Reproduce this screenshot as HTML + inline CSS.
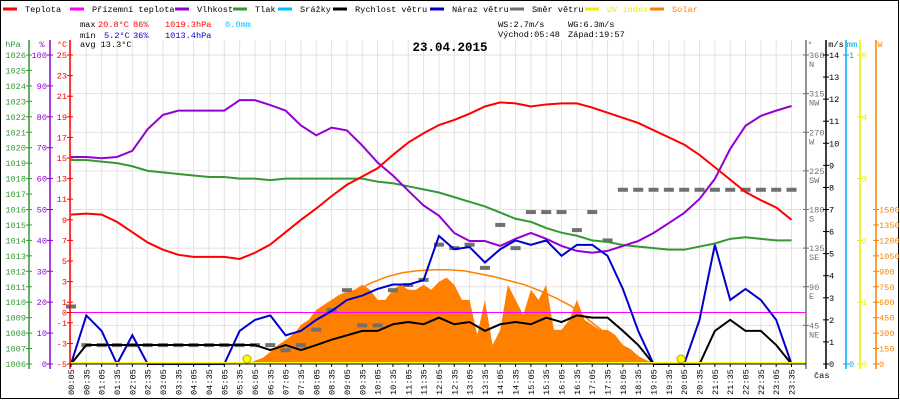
<!DOCTYPE html>
<html><head><meta charset="utf-8"><style>
body{margin:0;background:#fff}
svg{display:block;font-family:"Liberation Mono",monospace;font-size:8.6px}
</style></head><body>
<svg id="c" width="900" height="400" viewBox="0 0 900 400">
<rect x="0.5" y="0.5" width="898" height="398" fill="#fff" stroke="#000"/>
<g id="grid"></g>
<g id="plot"></g>
<g id="axes"></g>
<g id="legend"></g>
<g>
<text x="80" y="27" fill="#000">max</text><text x="98" y="27" fill="#f00">20.8°C</text><text x="133" y="27" fill="#f00">86%</text><text x="165" y="27" fill="#f00">1019.3hPa</text><text x="225" y="27" fill="#00bfff">0.0mm</text>
<text x="80" y="38" fill="#000">min</text><text x="104" y="38" fill="#00c">5.2°C</text><text x="133" y="38" fill="#00c">36%</text><text x="165" y="38" fill="#00c">1013.4hPa</text>
<text x="80" y="47" fill="#000">avg 13.3°C</text>
<text x="498" y="27">WS:2.7m/s</text><text x="568" y="27">WG:6.3m/s</text>
<text x="498" y="37">Východ:05:48</text><text x="568" y="37">Západ:19:57</text>
<text x="450" y="51" text-anchor="middle" font-weight="bold" font-size="12.5">23.04.2015</text>
</g>
</svg>
<script>
const temp=[9.5,9.6,9.5,8.8,7.8,6.8,6.1,5.6,5.4,5.4,5.4,5.2,5.8,6.6,7.8,9.0,10.1,11.3,12.4,13.2,14.0,15.3,16.5,17.4,18.2,18.7,19.3,20.0,20.4,20.3,20.0,20.2,20.3,20.3,19.9,19.4,18.9,18.4,17.7,17.0,16.3,15.3,14.1,12.9,11.7,10.9,10.2,9.0];
const humid=[67,67,66.6,67,69,76,80.6,82,82,82,82,85.4,85.4,83.8,82,77.2,74,76.5,75.6,70.7,65.2,61,56.1,51.3,48,42.4,39.8,39.8,38.2,40.5,42.4,40.5,38.2,36.6,36,36.6,38.2,39.8,42.4,45.6,48.9,53.4,59.9,69.6,77.1,80.3,82,83.5];
const press=[1019.2,1019.2,1019.1,1019,1018.8,1018.5,1018.4,1018.3,1018.2,1018.1,1018.1,1018,1018,1017.9,1018,1018,1018,1018,1018,1018,1017.8,1017.7,1017.5,1017.3,1017.1,1016.8,1016.5,1016.2,1015.8,1015.4,1015.2,1014.8,1014.5,1014.3,1014,1013.9,1013.7,1013.6,1013.5,1013.4,1013.4,1013.6,1013.8,1014.1,1014.2,1014.1,1014,1014];
const wind=[0,0.86,0.86,0.86,0.86,0.86,0.86,0.86,0.86,0.86,0.86,0.86,0.86,0.63,0.86,0.63,0.86,1.1,1.3,1.5,1.5,1.8,1.9,1.8,2.1,1.8,1.9,1.5,1.8,1.9,1.8,2.1,1.9,2.2,2.1,2.1,1.5,0.86,0,0,0,0,1.5,2.0,1.5,1.5,0.86,0];
const gust=[0,2.2,1.5,0,1.3,0,0,0,0,0,0,1.5,2.0,2.2,1.3,1.5,2.0,2.4,2.9,3.1,3.4,3.6,3.6,3.8,5.8,5.2,5.3,4.6,5.2,5.6,5.4,5.6,4.9,5.4,5.4,4.9,3.4,1.5,0,0,0,2.0,5.4,2.9,3.4,2.9,2.0,0];
const dirDeg=[67,22,22,22,22,22,22,22,22,22,22,22,22,22,16,22,40,63,86,45,45,86,92,98,139,135,139,112,162,135,177,177,177,156,177,144,203,203,203,203,203,203,203,203,203,203,203,203];
const solar=[0,19,58,117,185,233,282,380,428,526,575,623,672,701,721,769,721,623,623,721,769,721,721,769,721,799,838,769,623,623,282,623,185,331,769,623,477,721,623,769,331,331,428,623,428,380,331,331,282,185,146,78,39,10];
const solarStart=23;
const clear=[0,58,175,292,409,526,623,711,789,847,886,905,915,915,905,877,847,808,769,711,643,565,448,331,214,97,0];
const clearStart=11.6;
const xLabels=[];for(let h=0;h<24;h++){const hh=(h<10?'0':'')+h;xLabels.push(hh+':05');xLabels.push(hh+':35');}
const hpaTicks=[1026,1025,1024,1023,1022,1021,1020,1019,1018,1017,1016,1015,1014,1013,1012,1011,1010,1009,1008,1007,1006];
const pctTicks=[100,90,80,70,60,50,40,30,20,10,0];
const tTicks=[25,23,21,19,17,15,13,11,9,7,5,3,1,0,-1,-3,-5];
const dirTicks=[[360,'N'],[315,'NW'],[270,'W'],[225,'SW'],[180,'S'],[135,'SE'],[90,'E'],[45,'NE']];
const msTicks=[0,1,2,3,4,5,6,7,8,9,10,11,12,13,14];
const uvTicks=[0,1,2,3,4,5];
const wTicks=[0,150,300,450,600,750,900,1050,1200,1350,1500];

const NS='http://www.w3.org/2000/svg';
const T=55,B=364,H=B-T;
const X=i=>71+i*15.33;
const yT=v=>T+(25-v)/30*H, yH=v=>T+(100-v)/100*H, yP=v=>T+(1026-v)/20*H;
const yV=v=>B-v/14*H, yD=v=>B-v/360*H, yS=v=>B-v/3000*H, yU=v=>B-v/5*H;
function el(tag,a,p){const e=document.createElementNS(NS,tag);for(const k in a)e.setAttribute(k,a[k]);p.appendChild(e);return e;}
const grid=document.getElementById('grid'),plot=document.getElementById('plot'),axes=document.getElementById('axes'),leg=document.getElementById('legend');
for(let i=0;i<48;i++){const g=el('line',{x1:X(i),x2:X(i),y1:40,y2:B,stroke:'#e6e0e0'},grid);}
for(const d of dirTicks){const g=el('line',{x1:70,x2:806,y1:yD(d[0]),y2:yD(d[0]),stroke:'#e6e0e0'},grid);}
let pts=[[X(solarStart/2),B]];solar.forEach((s,j)=>pts.push([X((solarStart+j)/2),yS(s)]));pts.push([X((solarStart+solar.length-1)/2),B]);
let a=el('polygon',{points:pts.map(p=>p.join(',')).join(' '),fill:'#ff8000'},plot);
function line(arr,fy,col,name,w,xf){const p=el('polyline',{points:arr.map((v,i)=>(xf?xf(i):X(i))+','+fy(v)).join(' '),fill:'none',stroke:col,'stroke-width':w||2},plot);}
line(clear,yS,'#ff8000','solar-clear-sky-line',1.5,i=>X(clearStart+i));
el('line',{x1:70,x2:806,y1:yT(0),y2:yT(0),stroke:'#f0f'},plot);
dirDeg.forEach((d,i)=>{const r=el('rect',{x:X(i)-5,y:yD(d)-2,width:10,height:4,fill:'#707070'},plot);});
line(press,yP,'#339933','pressure-line');
line(humid,yH,'#9400d3','humidity-line');
line(temp,yT,'#f00','temperature-line');
line(gust,yV,'#0000cc','wind-gust-line');
line(wind,yV,'#000','wind-speed-line');
el('line',{x1:70,x2:806,y1:B-1,y2:B-1,stroke:'#ff0','stroke-width':2},plot);
[[247],[681]].forEach(p=>{const c=el('circle',{cx:p[0],cy:359,r:4,fill:'#ff0',stroke:'#aa0'},plot);});
function vaxis(x,col,ticks,fy,lx,anchor,unit,ux,name){const g=el('g',{},axes);
 el('line',{x1:x,x2:x,y1:40,y2:B+5,stroke:col,'stroke-width':1.5},g);
 ticks.forEach(t=>{const v=Array.isArray(t)?t[0]:t;const y=fy(v);el('line',{x1:x-3,x2:x+3,y1:y,y2:y,stroke:col},g);
 const tx=el('text',{x:lx,y:y+3,fill:col,'text-anchor':anchor},g);tx.textContent=v;
 if(Array.isArray(t)){const t2=el('text',{x:lx,y:y+12,fill:col,'text-anchor':anchor},g);t2.textContent=t[1];}});
 const u=el('text',{x:ux,y:47,fill:col,'text-anchor':'middle'},g);u.textContent=unit;}
vaxis(29,'#339933',hpaTicks,yP,26,'end','hPa',13,'pressure-axis');
vaxis(50,'#9400d3',pctTicks,yH,47,'end','%',42,'humidity-axis');
vaxis(70,'#f00',tTicks,yT,67,'end','°C',62,'temperature-axis');
vaxis(806,'#707070',dirTicks,yD,809,'start','°',810,'direction-axis');
vaxis(826,'#000',msTicks,yV,829,'start','m/s',836,'wind-axis');
vaxis(846,'#00aaee',[0,1],v=>B-v*H,849,'start','mm',852,'rain-axis');
vaxis(860,'#ee0',uvTicks,yU,862,'start','',866,'uv-axis');
vaxis(876,'#ff8000',wTicks,yS,879,'start','W',880,'solar-axis');
el('line',{x1:70,x2:806,y1:B,y2:B,stroke:'#000'},axes);
xLabels.forEach((l,i)=>{const t=el('text',{transform:`translate(${X(i)+3},395) rotate(-90)`,fill:'#000'},axes);t.textContent=l;
 el('line',{x1:X(i),x2:X(i),y1:B,y2:B+3,stroke:'#000'},axes);});
const cas=el('text',{x:814,y:378},axes);cas.textContent='čas';
const L=[['Teplota','#f00',3],['Přízemní teplota','#f0f',70],['Vlhkost','#9400d3',175],['Tlak','#339933',233],['Srážky','#00bfff',278],['Rychlost větru','#000',333],['Náraz větru','#0000cc',430],['Směr větru','#707070',510],['UV index','#ee0',585],['Solar','#ff8000',650]];
L.forEach(l=>{const g=el('g',{},leg);
 el('line',{x1:l[2],x2:l[2]+14,y1:9,y2:9,stroke:l[1],'stroke-width':3},g);
 const t=el('text',{x:l[2]+22,y:12,fill:(l[1]=='#ee0'||l[1]=='#ff8000')?l[1]:'#000'},g);t.textContent=l[0];});
</script>
</body></html>
